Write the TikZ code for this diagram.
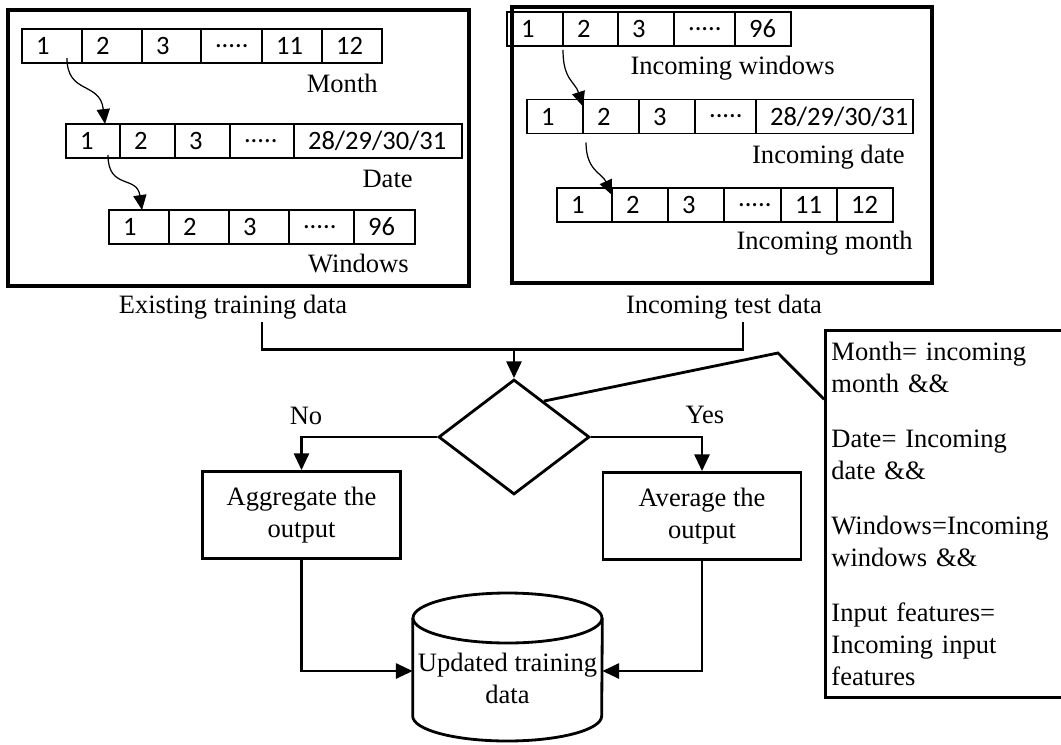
\documentclass[tikz,border=0pt]{standalone}
\usepackage{fontspec}
\setmainfont{Liberation Serif}
\newfontfamily\cellfont{Carlito}
\usetikzlibrary{shapes.geometric,arrows.meta,positioning,calc}

\newcommand{\fivedots}{.....}
% one row of table cells: name, start point, list of width/text
\newcommand{\cellrow}[3]{%
  \node[inner sep=0pt, outer sep=0pt, minimum size=0pt] (#1-0) at #2 {};
  \foreach \w/\t [count=\i, remember=\i as \j (initially 0)] in {#3}{
    \pgfmathsetlengthmacro{\tw}{\w*0.02cm-16pt}
    \node[cell, text width=\tw] (#1-\i) at (#1-\j.east) {\t};
  }%
}

\begin{document}
\begin{tikzpicture}[
    x=0.02cm, y=-0.02cm,
    every node/.style={font=\fontsize{15.1pt}{18.2pt}\selectfont},
    cell/.style={draw, line width=0.8pt, inner xsep=8pt, inner ysep=0pt, outer sep=0pt, minimum height=0.68cm, align=left, anchor=west, font=\cellfont\fontsize{15.1pt}{18pt}\selectfont},
    frame/.style={rectangle, draw, line width=2pt, inner sep=0pt},
    tag/.style={inner sep=0pt, anchor=base east},
    capt/.style={inner sep=0pt, anchor=base},
    decision/.style={diamond, draw, line width=1.6pt, inner sep=0pt, aspect=1.31, minimum width=3.02cm, minimum height=2.3cm},
    proc/.style={rectangle, draw, line width=1.6pt, align=center, minimum width=3.96cm, minimum height=1.74cm},
    dbtext/.style={inner sep=0pt, align=center, minimum width=3.78cm, minimum height=2.2cm},
    cond/.style={rectangle, draw, line width=1.6pt, anchor=north west, align=left, text width=4.7cm, inner xsep=0.12cm, minimum height=7.34cm},
    line/.style={line width=1.6pt},
    arr/.style={-{Triangle[length=9.5pt,width=8.5pt]}, line width=1.6pt},
    curv/.style={-{Triangle[length=8.5pt,width=7.5pt]}, line width=0.7pt}
]
    \useasboundingbox (0,0) rectangle (1061,744);

    % existing training data
    \node [frame, minimum width=9.22cm, minimum height=5.52cm] (trainBox) at (238.5,148) {};
    \cellrow{mL}{(22,46)}{60/1,60/2,59/3,61/{\fivedots},60/11,60/12}
    \cellrow{dL}{(66,141)}{54/1,55/2,55/3,64/{\fivedots},168/{28/29/30/31}}
    \cellrow{wL}{(109,227)}{60/1,60/2,60/3,65/{\fivedots},61/96}
    \node [tag] (monthL) at (378,92) {Month};
    \node [tag] (dateL) at (413,187) {Date};
    \node [tag] (winL) at (409,272) {Windows};
    \draw [curv] ($(mL-1.south east)+(-15,-5)$) .. controls +(0,37) and +(-5,-43) .. ($(dL-1.north east)+(-15,0)$);
    \draw [curv] ($(dL-1.south east)+(-12,-3)$) .. controls +(0,35) and +(-5,-35) .. ($(wL-1.north west)+(33,0)$);
    \node [capt] (exCap) at (233,313) {Existing training data};

    % incoming test data
    \node [frame, minimum width=8.4cm, minimum height=5.52cm] (testBox) at (722,145) {};
    \cellrow{wR}{(507,29)}{56/1,55/2,56/3,61/{\fivedots},56/96}
    \cellrow{dR}{(527,116.5)}{56/1,56/2,56/3,61/{\fivedots},157/{28/29/30/31}}
    \cellrow{mR}{(557,205)}{55/1,56/2,56/3,57/{\fivedots},56/11,56/12}
    \node [tag] (winR) at (835,74) {Incoming windows};
    \node [tag] (dateR) at (905,163) {Incoming date};
    \node [tag] (monthR) at (913,249) {Incoming month};
    \draw [curv] ($(wR-1.south east)+(0,4)$) .. controls +(0,30) and +(-8,-25) .. ($(dR-1.north east)+(0,7)$);
    \draw [curv] ($(dR-1.south east)+(3,9)$) .. controls +(0,28) and +(-10,-22) .. ($(mR-1.north east)+(0,7)$);
    \node [capt] (inCap) at (724,313) {Incoming test data};

    % decision and outputs
    \node [decision] (check) at (514,437) {};
    \coordinate (jn) at ($(check.north)+(0,-29)$);
    \draw [line] ($(exCap.south)+(29,3)$) |- (jn) -| ($(inCap.south)+(19,3)$);
    \draw [arr] (jn) -- (check.north);

    \node [proc] (agg) at (301.5,515) {Aggregate the\\output};
    \node [proc] (avg) at (702,516) {Average the\\output};
    \node [inner sep=0pt] (noL) at (306,416) {No};
    \node [inner sep=0pt] (yesL) at (705,415) {Yes};
    \draw [arr] (check.west) -| (agg.north);
    \draw [arr] (check.east) -| (avg.north);

    % database cylinder
    \node [dbtext] (store) at (507.5,671) {\rule{0pt}{19pt}Updated training\\data};
    \draw [line] ($(store.center)+(0,-53)$) ellipse [x radius=94.5, y radius=25];
    \draw [line] ($(store.west)+(0,-53)$) -- ($(store.west)+(0,45)$) arc [start angle=180, end angle=0, x radius=94.5, y radius=25] -- ($(store.east)+(0,-53)$);
    \draw [arr] (agg.south) |- (store.west);
    \draw [arr] (avg.south) |- (store.east);

    % matching condition
    \node [cond] (cond) at (824,329) {Month= incoming\\month \&\&\\[0.46cm]Date= Incoming\\date \&\&\\[0.46cm]Windows=Incoming\\windows \&\&\\[0.46cm]Input features=\\Incoming input\\features};
    \coordinate (bend) at (778,353);
    \draw [line] ($(check.north)!0.39!(check.east)$) -- (bend) -- ($(cond.north west)!0.19!(cond.south west)$);
\end{tikzpicture}
\end{document}
